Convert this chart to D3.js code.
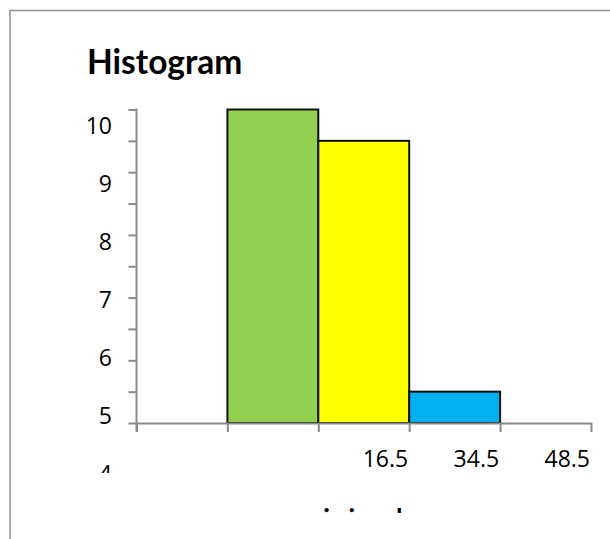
<!DOCTYPE html>
<html>
<head>
<meta charset="utf-8">
<script src="https://cdn.jsdelivr.net/npm/d3@7"></script>
<style>
  body { margin: 0; background: #fff; }
  svg { display: block; }
  text { font-family: Lato, "Open Sans", sans-serif; fill: #000; }
  text.tick-label { font-family: "Open Sans", Lato, sans-serif; }
</style>
</head>
<body>
<svg id="chart" width="610" height="539"></svg>
<script>
// Histogram data: five bin slots along the x axis
const slots = ["", "", "16.5", "34.5", "48.5"];
const counts = [null, 10, 9.5, 5.5, null];
const barColors = [null, "#92D050", "#FFFF00", "#00B0F0", null];

// Axis ticks and labels
const yTicks = [5, 5.5, 6, 6.5, 7, 7.5, 8, 8.5, 9, 9.5, 10];
const yLabels = [4, 5, 6, 7, 8, 9, 10];
const chartTitle = "Histogram";
const xAxisTitle = "minimal";

const svg = d3.select("#chart");
const axisColor = "#898989";

// chart frame
svg.append("path")
  .attr("d", "M10,539V10.5H610")
  .attr("fill", "none")
  .attr("stroke", "#8f8f8f")
  .attr("stroke-width", 1.5);

svg.append("text")
  .attr("x", 87).attr("y", 74)
  .attr("font-weight", 700)
  .attr("font-size", 33.5)
  .text(chartTitle);

// scales
const x = d3.scaleLinear().domain([0, slots.length]).range([136.5, 591]);
const y = d3.scaleLinear().domain([5, 10]).range([423, 109.5]);
const yLab = d3.scaleLinear().domain([5, 10]).range([416, 126]);

// bars
svg.append("g").selectAll("rect")
  .data(counts.map((c, i) => ({ c, i })).filter(d => d.c !== null))
  .join("rect")
  .attr("x", d => x(d.i))
  .attr("y", d => y(d.c))
  .attr("width", d => x(d.i + 1) - x(d.i))
  .attr("height", d => y(5) - y(d.c))
  .attr("fill", d => barColors[d.i])
  .attr("stroke", "#111")
  .attr("stroke-width", 2);

// y axis: ticks only, labels placed separately
const yAxis = svg.append("g")
  .attr("transform", "translate(136.5,0)")
  .call(d3.axisLeft(y).tickValues(yTicks).tickSize(8).tickSizeOuter(0).tickFormat(""));
yAxis.select(".domain").remove();
yAxis.selectAll(".tick line").attr("stroke", axisColor).attr("stroke-width", 2);
yAxis.append("line")
  .attr("y1", y(10) - 1).attr("y2", y(5) + 8.5)
  .attr("stroke", axisColor).attr("stroke-width", 2);

// x axis
const xAxis = svg.append("g")
  .attr("transform", `translate(0,${y(5)})`)
  .call(d3.axisBottom(x).tickValues(d3.range(slots.length + 1)).tickSize(9).tickSizeOuter(0).tickFormat(""));
xAxis.select(".domain").attr("stroke", axisColor).attr("stroke-width", 2);
xAxis.selectAll(".tick line").attr("stroke", axisColor).attr("stroke-width", 2);

// clipping regions for the lower labels
const defs = svg.append("defs");
defs.append("clipPath").attr("id", "clipY")
  .append("rect").attr("x", 0).attr("y", 0).attr("width", 610).attr("height", 473);
defs.append("clipPath").attr("id", "clipX")
  .append("rect").attr("x", 0).attr("y", 0).attr("width", 610).attr("height", 513);

// y labels
svg.append("g").attr("clip-path", "url(#clipY)")
  .selectAll("text")
  .data(yLabels)
  .join("text")
  .attr("class", "tick-label")
  .attr("x", 112)
  .attr("y", d => yLab(d))
  .attr("dy", "0.36em")
  .attr("text-anchor", "end")
  .attr("font-size", 23)
  .text(d => d);

// x labels, right-aligned to each slot's upper edge
svg.append("g").selectAll("text")
  .data(slots.map((s, i) => ({ s, i })).filter(d => d.s !== ""))
  .join("text")
  .attr("class", "tick-label")
  .attr("x", d => x(d.i + 1) - 1)
  .attr("y", 467)
  .attr("text-anchor", "end")
  .attr("font-size", 23)
  .text(d => d.s);

// x axis title
svg.append("g").attr("clip-path", "url(#clipX)")
  .append("text")
  .attr("x", 352).attr("y", 528)
  .attr("text-anchor", "middle")
  .attr("font-weight", 700)
  .attr("font-size", 26)
  .attr("letter-spacing", 2)
  .text(xAxisTitle);
</script>
</body>
</html>
